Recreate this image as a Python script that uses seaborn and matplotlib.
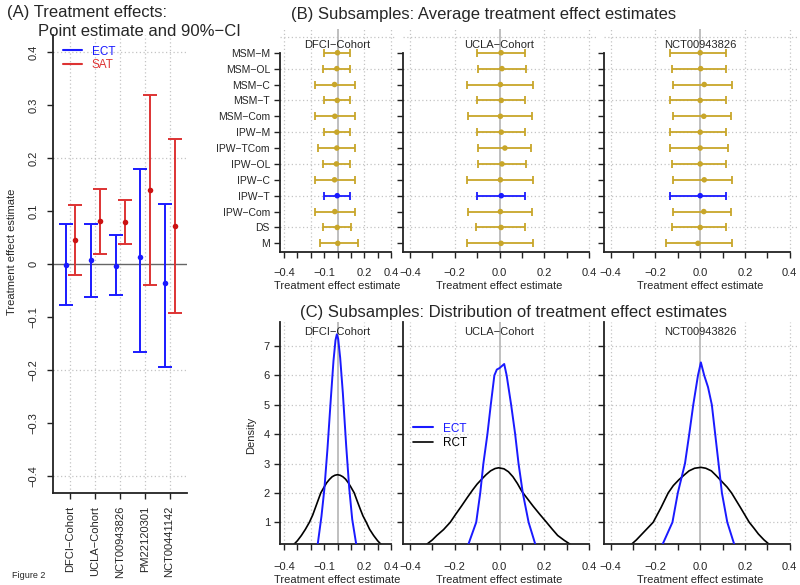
import numpy as np
import matplotlib
matplotlib.use("Agg")
import matplotlib.pyplot as plt
from matplotlib.lines import Line2D
import seaborn as sns

sns.set_style("white")
plt.rcParams["font.family"] = ["Liberation Sans", "DejaVu Sans"]

# ---------------- data ----------------
# (A) overall treatment effects, point estimate and 90% CI
studies = ["DFCI−Cohort", "UCLA−Cohort", "NCT00943826", "PM22120301", "NCT00441142"]
ect_est = [-0.002, 0.008, -0.004, 0.014, -0.036]
ect_lo = [-0.077, -0.061, -0.058, -0.165, -0.194]
ect_hi = [0.075, 0.076, 0.055, 0.179, 0.114]
sat_est = [0.046, 0.081, 0.079, 0.139, 0.071]
sat_lo = [-0.020, 0.020, 0.038, -0.040, -0.092]
sat_hi = [0.112, 0.141, 0.121, 0.318, 0.235]

# (B) subsample averages per method
methods = ["MSM−M", "MSM−OL", "MSM−C", "MSM−T", "MSM−Com", "IPW−M", "IPW−TCom",
           "IPW−OL", "IPW−C", "IPW−T", "IPW−Com", "DS", "M"]
cohorts = ["DFCI−Cohort", "UCLA−Cohort", "NCT00943826"]
dfci_est = [0.0, -0.005, -0.022, -0.002, -0.02, -0.005, -0.005, -0.008, -0.022, -0.002, -0.02, -0.002, 0.002]
dfci_lo = [-0.10, -0.105, -0.17, -0.10, -0.165, -0.10, -0.145, -0.105, -0.17, -0.10, -0.165, -0.108, -0.133]
dfci_hi = [0.093, 0.093, 0.13, 0.093, 0.13, 0.093, 0.128, 0.093, 0.13, 0.093, 0.13, 0.10, 0.153]
ucla_est = [0.007, 0.011, 0.004, 0.008, 0.004, 0.008, 0.024, 0.011, 0.004, 0.008, 0.004, 0.007, 0.007]
ucla_lo = [-0.10, -0.094, -0.144, -0.10, -0.141, -0.10, -0.094, -0.094, -0.144, -0.10, -0.141, -0.104, -0.144]
ucla_hi = [0.113, 0.118, 0.15, 0.113, 0.143, 0.113, 0.14, 0.118, 0.15, 0.113, 0.143, 0.113, 0.15]
nct_est = [0.0, 0.002, 0.018, 0.0, 0.016, 0.0, 0.0, 0.0, 0.018, 0.0, 0.016, 0.0, -0.01]
nct_lo = [-0.133, -0.128, -0.122, -0.133, -0.122, -0.133, -0.137, -0.128, -0.122, -0.133, -0.122, -0.128, -0.152]
nct_hi = [0.115, 0.115, 0.142, 0.115, 0.136, 0.115, 0.125, 0.115, 0.142, 0.115, 0.136, 0.115, 0.142]
highlight = "IPW−T"

# (C) density curves
dfci_ect_x = [-0.148, -0.12, -0.098, -0.075, -0.05, -0.03, -0.015, -0.005, 0.005, 0.02, 0.04, 0.065, 0.088, 0.11, 0.14]
dfci_ect_y = [0.25, 1.2, 2.14, 3.5, 5.2, 6.5, 7.2, 7.4, 7.25, 6.6, 5.4, 3.6, 2.14, 1.1, 0.25]
dfci_rct_x = [-0.325, -0.30, -0.27, -0.24, -0.21, -0.185, -0.165, -0.145, -0.125, -0.1, -0.08, -0.06, -0.04,
              -0.02, 0.0, 0.02, 0.04, 0.06, 0.08, 0.1, 0.125, 0.145, 0.17, 0.19, 0.215, 0.24, 0.27, 0.30, 0.325]
dfci_rct_y = [0.25, 0.37, 0.55, 0.76, 1.0, 1.25, 1.5, 1.75, 2.0, 2.2, 2.35, 2.46, 2.55,
              2.6, 2.62, 2.6, 2.55, 2.47, 2.35, 2.2, 2.0, 1.75, 1.45, 1.22, 1.0, 0.76, 0.55, 0.37, 0.25]
ucla_ect_x = [-0.139, -0.104, -0.086, -0.072, -0.054, -0.039, -0.023, -0.012, 0.0, 0.012, 0.021, 0.032, 0.052, 0.07, 0.085, 0.104, 0.13, 0.16]
ucla_ect_y = [0.25, 1.0, 2.0, 3.0, 4.0, 5.0, 6.0, 6.2, 6.25, 6.33, 6.39, 6.0, 5.0, 4.0, 3.0, 2.0, 1.0, 0.25]
ucla_rct_x = [-0.325, -0.30, -0.28, -0.25, -0.22, -0.195, -0.17, -0.145, -0.12, -0.1, -0.078, -0.06, -0.04, -0.02,
              -0.004, 0.02, 0.04, 0.06, 0.08, 0.1, 0.125, 0.15, 0.18, 0.21, 0.235, 0.26, 0.29, 0.316]
ucla_rct_y = [0.25, 0.4, 0.55, 0.75, 1.0, 1.28, 1.55, 1.83, 2.1, 2.3, 2.48, 2.62, 2.75, 2.83,
              2.855, 2.82, 2.72, 2.55, 2.32, 2.05, 1.8, 1.55, 1.27, 1.0, 0.77, 0.55, 0.38, 0.25]
nct_ect_x = [-0.168, -0.124, -0.1, -0.068, -0.049, -0.031, -0.01, 0.003, 0.018, 0.035, 0.052, 0.067, 0.082, 0.097, 0.121, 0.152]
nct_ect_y = [0.25, 1.0, 2.0, 3.0, 4.0, 5.0, 6.0, 6.445, 6.0, 5.6, 5.0, 4.0, 3.0, 2.0, 1.0, 0.25]
nct_rct_x = [-0.307, -0.285, -0.26, -0.235, -0.21, -0.175, -0.143, -0.12, -0.095, -0.07, -0.05, -0.025, 0.003,
             0.025, 0.05, 0.07, 0.095, 0.12, 0.14, 0.18, 0.219, 0.24, 0.26, 0.285, 0.308]
nct_rct_y = [0.25, 0.4, 0.6, 0.8, 1.0, 1.5, 2.0, 2.25, 2.45, 2.62, 2.75, 2.84, 2.87,
             2.84, 2.75, 2.6, 2.4, 2.2, 2.0, 1.5, 1.0, 0.8, 0.6, 0.4, 0.25]

# ---------------- style ----------------
BLUE = "#1a1aff"
RED = "#dd3333"
RED_PT = "#cc1111"
GOLD = "#c8a62a"
GRID = "#c4c4c4"
DOT = (0, (1, 2))

W, H = 800, 585
fig = plt.figure(figsize=(8, 5.85), dpi=100)


def px_axes(left, top, right, bottom):
    return fig.add_axes([left / W, 1 - bottom / H, (right - left) / W, (bottom - top) / H])


def r_style(ax):
    ax.set_facecolor("none")
    for s in ["top", "right"]:
        ax.spines[s].set_visible(False)
    for s in ["left", "bottom"]:
        ax.spines[s].set_linewidth(1.3)
        ax.spines[s].set_color("#222222")
    ax.tick_params(direction="out", length=4, width=1, color="#222222",
                   labelsize=8, pad=3, left=True, bottom=True)


# ---------------- (A) ----------------
axA = px_axes(52.7, 35, 187, 493.3)
r_style(axA)
pos = np.arange(len(studies))
axA.set_xlim(-0.7, 4.7)
axA.set_ylim(-0.432, 0.432)
for p in pos:
    axA.axvline(p, color=GRID, lw=0.9, ls=DOT, zorder=0)
for g in [-0.4, -0.2, 0.2, 0.4]:
    axA.axhline(g, color=GRID, lw=0.9, ls=DOT, zorder=0)
axA.axhline(0, color="#666666", lw=1, zorder=1)

e_est, e_lo, e_hi = np.array(ect_est), np.array(ect_lo), np.array(ect_hi)
s_est, s_lo, s_hi = np.array(sat_est), np.array(sat_lo), np.array(sat_hi)
axA.errorbar(pos - 0.17, e_est, yerr=[e_est - e_lo, e_hi - e_est], fmt="none",
             ecolor=BLUE, elinewidth=1.4, capsize=5, capthick=1.4, zorder=2)
axA.errorbar(pos + 0.2, s_est, yerr=[s_est - s_lo, s_hi - s_est], fmt="none",
             ecolor=RED, elinewidth=1.4, capsize=5, capthick=1.4, zorder=2)
sns.scatterplot(x=pos - 0.17, y=e_est, color=BLUE, s=16, linewidth=0, ax=axA, zorder=3)
sns.scatterplot(x=pos + 0.2, y=s_est, color=RED_PT, s=16, linewidth=0, ax=axA, zorder=3)

axA.set_yticks(np.round(np.arange(-0.4, 0.41, 0.1), 1))
axA.set_yticklabels(["−0.4", "−0.3", "−0.2", "−0.1", "0", "0.1", "0.2", "0.3", "0.4"],
                    rotation=90, va="center")
axA.tick_params(axis="y", pad=6)
axA.tick_params(axis="x", pad=5)
axA.set_xticks(pos)
axA.set_xticklabels(studies, rotation=90)
axA.set_xlabel("")
axA.set_ylabel("")
legA = axA.legend(handles=[Line2D([], [], color=BLUE, lw=1.5), Line2D([], [], color=RED, lw=1.5)],
                  labels=["ECT", "SAT"], loc="upper left", bbox_to_anchor=(0.0, 1.0),
                  frameon=False, fontsize=8.5, handlelength=1.6, handletextpad=0.8,
                  labelspacing=0.1)
for t, c in zip(legA.get_texts(), [BLUE, RED]):
    t.set_color(c)

fig.text(7 / W, 1 - 12 / H, "(A) Treatment effects:", fontsize=12, va="center", ha="left")
fig.text(38 / W, 1 - 31 / H, "Point estimate and 90%−CI", fontsize=12, va="center", ha="left")
fig.text(12 / W, 1 - 252 / H, "Treatment effect estimate", fontsize=8, rotation=90,
         va="center", ha="center")
fig.text(12 / W, 1 - 576 / H, "Figure 2", fontsize=6.5, va="center", ha="left")

# ---------------- (B) and (C) ----------------
x_edges = [(279.7, 395.3), (402.8, 596.2), (603.5, 796.9)]
xt = np.round(np.arange(-0.4, 0.41, 0.1), 1)
lab_first = ["−0.4", "", "", "−0.1", "", "", "0.2", "", "0.4"]
lab_other = ["−0.4", "", "−0.2", "", "0.0", "", "0.2", "", "0.4"]
XLIM = (-0.432, 0.432)

b_data = [(dfci_est, dfci_lo, dfci_hi), (ucla_est, ucla_lo, ucla_hi), (nct_est, nct_lo, nct_hi)]
rows = np.arange(len(methods), 0, -1)

for i, (cohort, (l, r), (est, lo, hi)) in enumerate(zip(cohorts, x_edges, b_data)):
    ax = px_axes(l, 28.6, r, 251.6)
    r_style(ax)
    ax.set_xlim(*XLIM)
    ax.set_ylim(0.48, 14.52)
    for g in [-0.4, -0.2, 0.2, 0.4]:
        ax.axvline(g, color=GRID, lw=0.9, ls=DOT, zorder=0)
    for g in range(2, 15, 2):
        ax.axhline(g, color=GRID, lw=0.9, ls=DOT, zorder=0)
    ax.axvline(0, color="#b4b4b4", lw=1.2, zorder=1)
    est, lo, hi = np.array(est), np.array(lo), np.array(hi)
    cols = [BLUE if m == highlight else GOLD for m in methods]
    for y, e, a, b, c in zip(rows, est, lo, hi, cols):
        ax.errorbar([e], [y], xerr=[[e - a], [b - e]], fmt="none", ecolor=c,
                    elinewidth=1.3, capsize=3, capthick=1.3, zorder=2)
    sns.scatterplot(x=est, y=rows, hue=methods, palette=dict(zip(methods, cols)),
                    s=16, linewidth=0, legend=False, ax=ax, zorder=3)
    ax.spines["left"].set_bounds(0.48, 13)
    ax.spines["bottom"].set_bounds(XLIM[0], 0.4)
    ax.set_yticks(rows)
    if i == 0:
        ax.set_yticklabels(methods, fontsize=7.5)
    else:
        ax.set_yticklabels([])
    ax.set_xticks(xt)
    ax.set_xticklabels(lab_first if i == 0 else lab_other)
    ax.tick_params(axis="x", pad=8)
    ax.set_xlabel("Treatment effect estimate", fontsize=8, labelpad=2)
    ax.set_ylabel("")
    ax.text(0.5, 0.925, cohort, transform=ax.transAxes, ha="center", va="center", fontsize=8)

c_data = [(dfci_ect_x, dfci_ect_y, dfci_rct_x, dfci_rct_y),
          (ucla_ect_x, ucla_ect_y, ucla_rct_x, ucla_rct_y),
          (nct_ect_x, nct_ect_y, nct_rct_x, nct_rct_y)]

for i, (cohort, (l, r), (ex, ey, rx, ry)) in enumerate(zip(cohorts, x_edges, c_data)):
    ax = px_axes(l, 322, r, 544)
    r_style(ax)
    ax.set_xlim(*XLIM)
    ax.set_ylim(0.26, 7.82)
    for g in [-0.4, -0.2, 0.2, 0.4]:
        ax.axvline(g, color=GRID, lw=0.9, ls=DOT, zorder=0)
    for g in range(1, 8):
        ax.axhline(g, color=GRID, lw=0.9, ls=DOT, zorder=0)
    ax.axvline(0, color="#b4b4b4", lw=1.2, zorder=1)
    sns.lineplot(x=rx, y=ry, color="black", lw=1.2, estimator=None, ax=ax, zorder=2)
    sns.lineplot(x=ex, y=ey, color=BLUE, lw=1.4, estimator=None, ax=ax, zorder=3)
    ax.spines["bottom"].set_bounds(XLIM[0], 0.4)
    ax.set_yticks(range(1, 8))
    if i == 0:
        ax.set_yticklabels([str(k) for k in range(1, 8)])
    else:
        ax.set_yticklabels([])
    ax.set_xticks(xt)
    ax.set_xticklabels(lab_first if i == 0 else lab_other)
    ax.tick_params(axis="x", pad=9)
    ax.set_xlabel("Treatment effect estimate", fontsize=8, labelpad=2)
    ax.set_ylabel("")
    ax.text(0.5, 0.955, cohort, transform=ax.transAxes, ha="center", va="center", fontsize=8)
    if i == 1:
        legC = ax.legend(handles=[Line2D([], [], color=BLUE, lw=1.5),
                                  Line2D([], [], color="black", lw=1.2)],
                         labels=["ECT", "RCT"], loc="upper left", bbox_to_anchor=(0.0, 0.595),
                         frameon=False, fontsize=8.5, handlelength=1.7, handletextpad=0.8,
                         labelspacing=0.25)
        for t, c in zip(legC.get_texts(), [BLUE, "black"]):
            t.set_color(c)

fig.text(251 / W, 1 - 435 / H, "Density", fontsize=8, rotation=90, va="center", ha="center")
fig.text(484 / W, 1 - 15 / H, "(B) Subsamples: Average treatment effect estimates",
         fontsize=12, ha="center", va="center")
fig.text(513 / W, 1 - 312 / H, "(C) Subsamples: Distribution of treatment effect estimates",
         fontsize=12, ha="center", va="center")

fig.savefig("out.png", dpi=100)
